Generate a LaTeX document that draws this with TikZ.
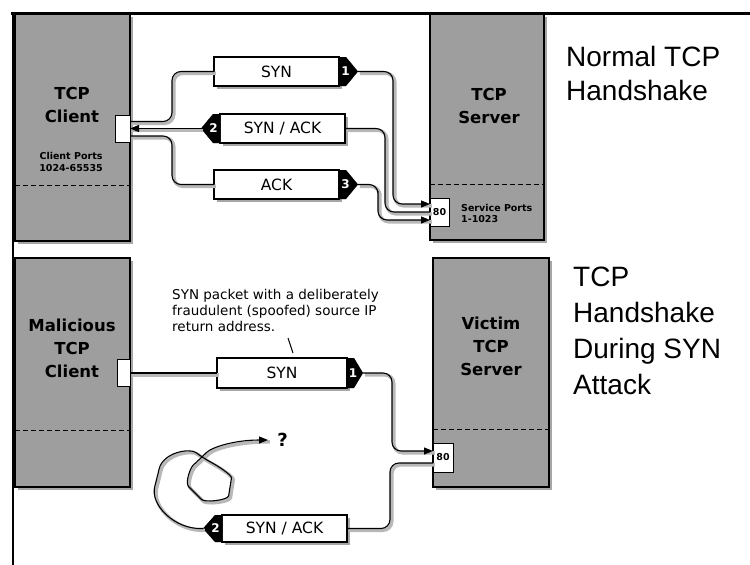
\documentclass[tikz,border=0pt]{standalone}
\usepackage{fontspec}
\setmainfont{DejaVu Sans}
\newfontfamily\arialf{Liberation Sans}
\usetikzlibrary{arrows.meta,shadows,calc}
\begin{document}
\begin{tikzpicture}[x=1pt,y=-1pt,
  myshadow/.style={drop shadow={shadow xshift=3pt,shadow yshift=-3pt,fill=black!35,opacity=1}},
  host/.style={draw=black, line width=1.3pt, fill=black!38, inner sep=0pt, outer sep=0pt, myshadow},
  hostlabel/.style={font=\bfseries\fontsize{16.5}{23}\selectfont, align=center, inner sep=0pt},
  portlabel/.style={font=\bfseries\fontsize{9.5}{11.5}\selectfont, inner sep=0pt},
  port/.style={draw=black, line width=1pt, fill=white, inner sep=0pt, outer sep=0pt, font=\bfseries\fontsize{9.5}{11}\selectfont},
  packet/.style={draw=black, line width=1.2pt, fill=white, inner sep=0pt, outer sep=0pt, minimum width=125, minimum height=29, font=\fontsize{15.5}{18}\selectfont, myshadow},
  tagfill/.style={fill=black},
  tagshadow/.style={fill=black!35, shift={(3,3)}},
  tagnum/.style={text=white, inner sep=0pt, font=\bfseries\fontsize{12}{14}\selectfont},
  conn/.style={line width=1.1pt, rounded corners=9pt, preaction={draw=black!28, line width=3.5pt, arrows=-, transform canvas={shift={(1.8pt,-1.8pt)}}}},
  arr/.style={-{Triangle[length=9pt,width=7pt]}},
  title/.style={font=\arialf\fontsize{28}{34}\selectfont, anchor=base west, inner sep=0pt},
  divider/.style={dashed, dash pattern=on 5pt off 3pt, line width=0.9pt},
]
\useasboundingbox (0,0) rectangle (750,565);

% ---------- hosts ----------
\node[host, minimum width=115, minimum height=227] (c1) at (72.5,127.5) {};
\node[host, minimum width=114, minimum height=226] (srv1) at (487,127) {};
\node[host, minimum width=115, minimum height=229] (c2) at (72.5,372.5) {};
\node[host, minimum width=116, minimum height=229] (srv2) at (491,372.5) {};

\draw[divider] (c1.west |- 0,185) -- (c1.east |- 0,185);
\draw[divider] (srv1.west |- 0,184) -- (srv1.east |- 0,184);
\draw[divider] (c2.west |- 0,430) -- (c2.east |- 0,430);
\draw[divider] (srv2.west |- 0,429) -- (srv2.east |- 0,429);

\node[hostlabel] (c1l) at (72,104.5) {TCP\\Client};
\node[portlabel, align=center] (c1p) at (71,162) {Client Ports\\1024-65535};
\node[hostlabel] (srv1l) at (489,105.5) {TCP\\Server};
\node[portlabel, align=left, anchor=west] (srv1p) at (461,213.5) {Service Ports\\1-1023};
\node[hostlabel] (c2l) at (72,348) {Malicious\\TCP\\Client};
\node[hostlabel] (srv2l) at (491,346) {Victim\\TCP\\Server};

% ---------- ports ----------
\node[port, minimum width=15, minimum height=27] (cp1) at (122.5,128.5) {};
\node[port, minimum width=19, minimum height=28] (sp1) at (439.5,212) {80};
\node[port, minimum width=13, minimum height=27] (cp2) at (123.5,373) {};
\node[port, minimum width=20, minimum height=29] (sp2) at (443,457.5) {80};

% ---------- packets ----------
\node[packet] (pk1) at (276.5,71.5) {SYN};
\node[packet] (pk2) at (282.5,128.5) {SYN / ACK};
\node[packet] (pk3) at (276.5,184.5) {ACK};
\node[packet, minimum width=130, minimum height=30] (pk4) at (282,373) {SYN};
\node[packet, minimum height=27] (pk5) at (284.5,528.5) {SYN / ACK};

% tags pointing right
\foreach \p/\w in {pk1/19, pk3/19, pk4/16} {
  \fill[tagshadow] (\p.north east) -- ++(7,0) -- ($(\p.east)+(\w,0)$) -- ($(\p.south east)+(7,0)$) -- (\p.south east) -- cycle;
  \fill[tagfill] (\p.north east) -- ++(7,0) -- ($(\p.east)+(\w,0)$) -- ($(\p.south east)+(7,0)$) -- (\p.south east) -- cycle;
}
% tags pointing left
\foreach \p in {pk2, pk5} {
  \fill[tagshadow] (\p.north west) -- ++(-7,0) -- ($(\p.west)+(-19,0)$) -- ($(\p.south west)+(-7,0)$) -- (\p.south west) -- cycle;
  \fill[tagfill] (\p.north west) -- ++(-7,0) -- ($(\p.west)+(-19,0)$) -- ($(\p.south west)+(-7,0)$) -- (\p.south west) -- cycle;
}
\node[tagnum] (n1) at ($(pk1.east)+(6.5,0)$) {1};
\node[tagnum] (n2) at ($(pk2.west)+(-6.5,0)$) {2};
\node[tagnum] (n3) at ($(pk3.east)+(6.5,0)$) {3};
\node[tagnum] (n4) at ($(pk4.east)+(6,0)$) {1};
\node[tagnum] (n5) at ($(pk5.west)+(-6.5,0)$) {2};
\coordinate (tip1) at ($(pk1.east)+(19,0)$);
\coordinate (tip2) at ($(pk2.west)+(-19,0)$);
\coordinate (tip3) at ($(pk3.east)+(19,0)$);
\coordinate (tip4) at ($(pk4.east)+(16,0)$);
\coordinate (tip5) at ($(pk5.west)+(-19,0)$);

% ---------- connectors (top) ----------
\draw[conn] ($(cp1.east)+(0,-7)$) -| (172,100) |- (pk1.west);
\draw[conn, arr] (tip2) -- (cp1.east);
\draw[conn] ($(cp1.east)+(0,7.5)$) -| (172,160) |- (pk3.west);
\draw[conn, arr] (tip1) -| (393,140) |- ($(sp1.west)+(0,-8)$);
\draw[conn] (sp1.west) -| (385,170) |- (pk2.east);
\draw[conn, arr] (tip3) -| (378,200) |- ($(sp1.west)+(0,8)$);

% ---------- connectors (bottom) ----------
\draw[conn] (cp2.east) -- (pk4.west);
\draw[conn, arr] (tip4) -| (392,410) |- ($(sp2.west)+(0,-6.5)$);
\draw[conn] ($(sp2.west)+(0,5.5)$) -| (390,500) |- (pk5.east);

\coordinate (qend) at (268,440);
\node[font=\bfseries\fontsize{18}{20}\selectfont, inner sep=0pt] (qm) at (282.5,440) {?};
\draw[conn, arr] (tip5) .. controls (175,530) and (150,505) .. (157,478)
   .. controls (163,452) and (190,448) .. (203,458)
   .. controls (218,466) and (232,475) .. (230,487)
   .. controls (228,500) and (205,503) .. (195,493)
   .. controls (185,483) and (190,468) .. (200,459)
   .. controls (212,447) and (235,440) .. (qend);

% ---------- annotation ----------
\node[font=\fontsize{13.5}{16}\selectfont, align=left, anchor=north west, inner sep=0pt] (note) at (172,289)
  {SYN packet with a deliberately\\fraudulent (spoofed) source IP\\return address.};
\coordinate (ptrA) at (288,338);
\coordinate (ptrB) at (293,353);
\draw[line width=1pt] (ptrA) -- (ptrB);

% ---------- titles ----------
\node[title] (t1a) at (566,66) {Normal TCP};
\node[title] (t1b) at (566,100) {Handshake};
\node[title] (t2a) at (573,286) {TCP};
\node[title] (t2b) at (573,322) {Handshake};
\node[title] (t2c) at (573,358) {During SYN};
\node[title] (t2d) at (573,394) {Attack};

% ---------- frame ----------
\draw[line width=3pt] (11,13) -- (750,13);
\draw[line width=2.5pt] (13,12) -- (13,565);
\end{tikzpicture}
\end{document}
